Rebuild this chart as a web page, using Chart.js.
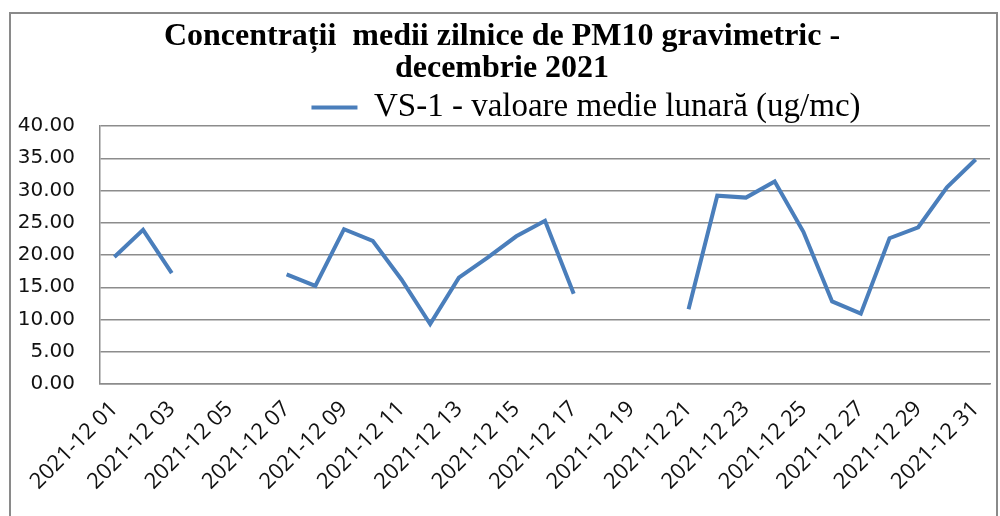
<!DOCTYPE html>
<html>
<head>
<meta charset="utf-8">
<script src="https://cdn.jsdelivr.net/npm/chart.js@4.4.0/dist/chart.umd.min.js"></script>
<style>
    html, body { margin: 0; padding: 0; background: #fff; }
    #wrap { position: relative; width: 1000px; height: 516px; overflow: hidden; }
    #frame { position: absolute; left: 9px; top: 12px; width: 985px; height: 540px; border: 2px solid #8a8a8a; }
    canvas { position: absolute; left: 0; top: 0; }
</style>
</head>
<body>
<div id="wrap">
    <div id="frame"></div>
    <canvas id="grafic" width="1000" height="516"></canvas>
</div>
<script>
// Zilele lunii decembrie 2021
const zile = [
    '2021-12 01', '2021-12 02', '2021-12 03', '2021-12 04', '2021-12 05', '2021-12 06', '2021-12 07',
    '2021-12 08', '2021-12 09', '2021-12 10', '2021-12 11', '2021-12 12', '2021-12 13', '2021-12 14',
    '2021-12 15', '2021-12 16', '2021-12 17', '2021-12 18', '2021-12 19', '2021-12 20', '2021-12 21',
    '2021-12 22', '2021-12 23', '2021-12 24', '2021-12 25', '2021-12 26', '2021-12 27', '2021-12 28',
    '2021-12 29', '2021-12 30', '2021-12 31'
];

// Concentratii PM10 (ug/mc), null = lipsa date
const valoriVS1 = [
    19.7, 23.9, 17.2, null, null, null, 17.0,
    15.2, 24.0, 22.2, 16.2, 9.3, 16.5, 19.6,
    22.9, 25.3, 14.0, null, null, null, 11.6,
    29.2, 28.9, 31.4, 23.6, 12.8, 10.9, 22.6,
    24.3, 30.5, 34.8
];

const titluGrafic = ['Concentrații  medii zilnice de PM10 gravimetric -', 'decembrie 2021'];
const numeSerie = 'VS-1 - valoare medie lunară (ug/mc)';

const albastru = '#4a7ebb';
const gri = '#8c8c8c';

// legenda: mai putin spatiu dedesubt si mutata spre dreapta, ca in original
const ajusteazaLegenda = {
    id: 'ajusteazaLegenda',
    beforeLayout(chart) {
        const l = chart.legend;
        if (!l || l._ajustat) return;
        const fitOriginal = l.fit;
        l.fit = function () {
            fitOriginal.call(this);
            this.height -= 8;
        };
        l._ajustat = true;
    },
    afterLayout(chart) {
        const l = chart.legend;
        if (!l) return;
        l.left += 84;
        l.right += 84;
    }
};

new Chart(document.getElementById('grafic'), {
    type: 'line',
    data: {
        labels: zile,
        datasets: [{
            label: numeSerie,
            data: valoriVS1,
            borderColor: albastru,
            backgroundColor: albastru,
            borderWidth: 4,
            pointRadius: 0,
            pointHoverRadius: 0,
            tension: 0,
            spanGaps: false
        }]
    },
    options: {
        responsive: false,
        animation: false,
        devicePixelRatio: 1,
        layout: { padding: { top: 14, left: 14, right: 10, bottom: 0 } },
        plugins: {
            title: {
                display: true,
                text: titluGrafic,
                color: '#000',
                font: { family: 'Liberation Serif', size: 32, weight: 'bold', lineHeight: 1.0 },
                padding: { top: 7, bottom: 0 }
            },
            legend: {
                display: true,
                position: 'top',
                labels: {
                    color: '#000',
                    font: { family: 'Liberation Serif', size: 33 },
                    usePointStyle: true,
                    pointStyle: 'line',
                    pointStyleWidth: 46,
                    boxHeight: 4,
                    padding: 6
                }
            },
            tooltip: { enabled: false }
        },
        scales: {
            x: {
                offset: true,
                grid: { display: false, drawTicks: false },
                border: { display: true, color: gri, width: 1.5 },
                afterFit: s => { s.height = 132; s.paddingRight = 0; },
                ticks: {
                    autoSkip: false,
                    minRotation: 45,
                    maxRotation: 45,
                    padding: 12,
                    color: '#111',
                    font: { family: 'Open Sans', size: 22 },
                    callback: (v, i) => (i % 2 === 0 ? zile[i] : '')
                }
            },
            y: {
                min: 0,
                max: 40,
                grid: { color: gri, lineWidth: 1.5, drawTicks: false },
                border: { display: true, color: gri, width: 1.5 },
                afterFit: s => { s.width = 86; },
                ticks: {
                    stepSize: 5,
                    padding: 25,
                    color: '#111',
                    font: { family: 'DejaVu Sans', size: 20 },
                    callback: v => Number(v).toFixed(2)
                }
            }
        }
    },
    plugins: [ajusteazaLegenda]
});
</script>
</body>
</html>
